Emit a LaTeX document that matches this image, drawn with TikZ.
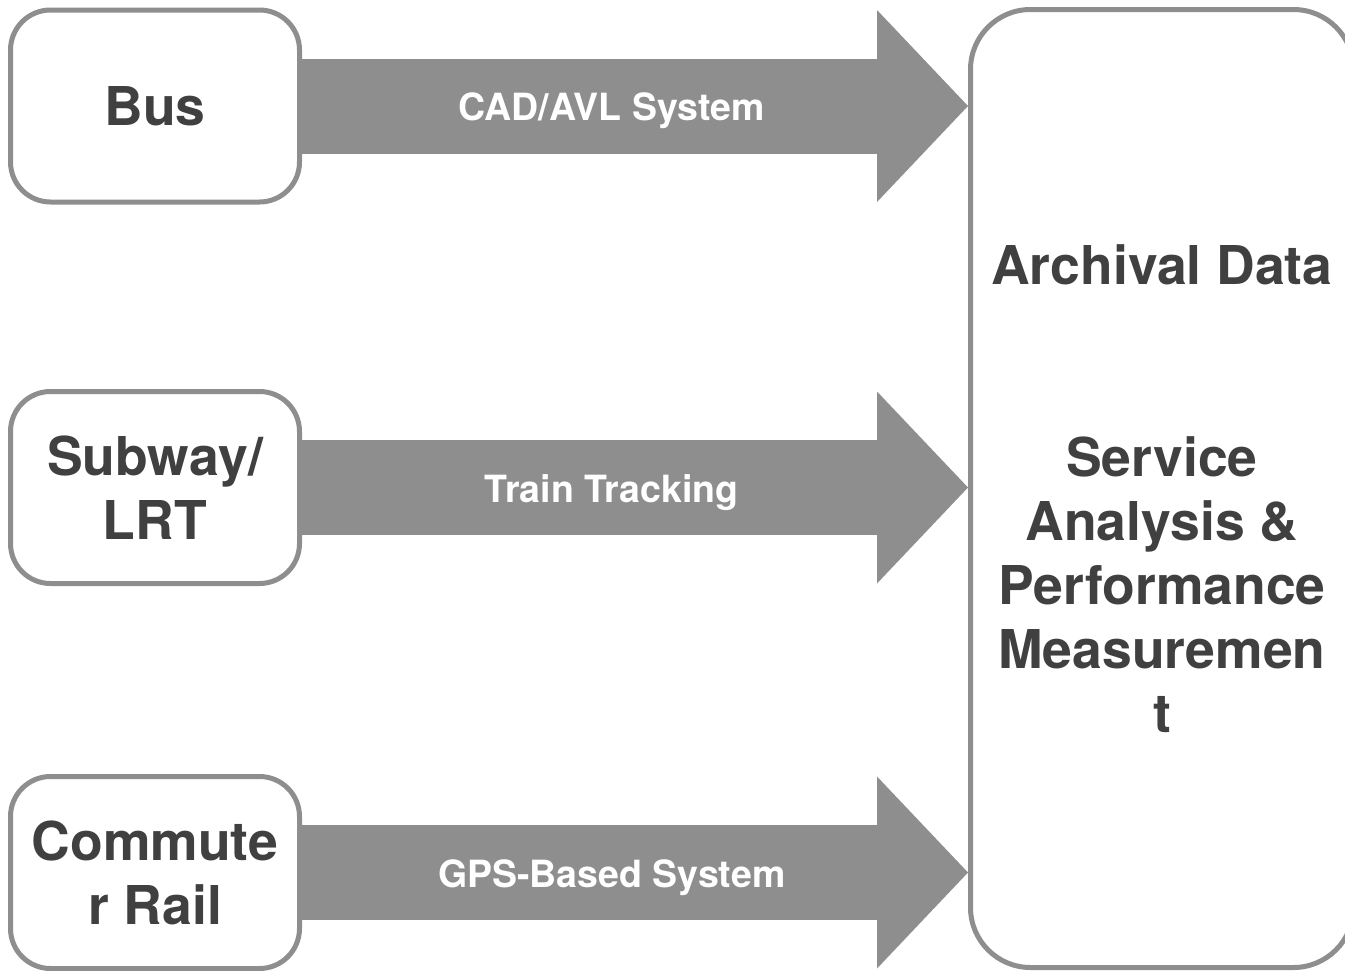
\documentclass[tikz,border=0pt]{standalone}
\usepackage{fontspec}
\setmainfont{TeX Gyre Heros}
\usepackage{xcolor}
\usepackage{tikz}
\usetikzlibrary{arrows.meta,backgrounds}
\definecolor{feedgrey}{HTML}{8E8E8E}
\definecolor{inkgrey}{HTML}{404040}

\begin{document}
\begin{tikzpicture}[x=1pt,y=-1pt,
  mode/.style={rounded corners=40pt,draw=feedgrey,line width=5pt,fill=white,inner sep=0pt,align=center,
    minimum width=289pt,minimum height=192pt,text=inkgrey,font=\bfseries\fontsize{53.5}{64}\selectfont},
  archive/.style={mode,rounded corners=60pt,minimum width=383pt,minimum height=958pt},
  feed/.style={draw=feedgrey,line width=95pt,-{Triangle[length=91pt,width=192pt,line width=0pt]}},
  feedlabel/.style={text=white,yshift=-5pt,font=\bfseries\fontsize{37.5}{44}\selectfont}]
\useasboundingbox (0,0) rectangle (1345,970);
\node[mode] (bus) at (155,106) {Bus};
\node[mode] (subway) at (155,487.5) {Subway/\\LRT};
\node[mode] (commuter) at (155,872.5) {Commute\\r Rail};
\node[archive] (archive) at (1162,488.5) {Archival Data\\[128pt]Service\\Analysis \&\\Performance\\Measuremen\\t};
\begin{scope}[on background layer]
 \draw[feed] (bus.east) -- (bus.east -| archive.west) node[feedlabel,pos=0.465] {CAD/AVL System};
 \draw[feed] (subway.east) -- (subway.east -| archive.west) node[feedlabel,pos=0.465] {Train Tracking};
 \draw[feed] (commuter.east) -- (commuter.east -| archive.west) node[feedlabel,pos=0.465] {GPS-Based System};
\end{scope}
\end{tikzpicture}
\end{document}
